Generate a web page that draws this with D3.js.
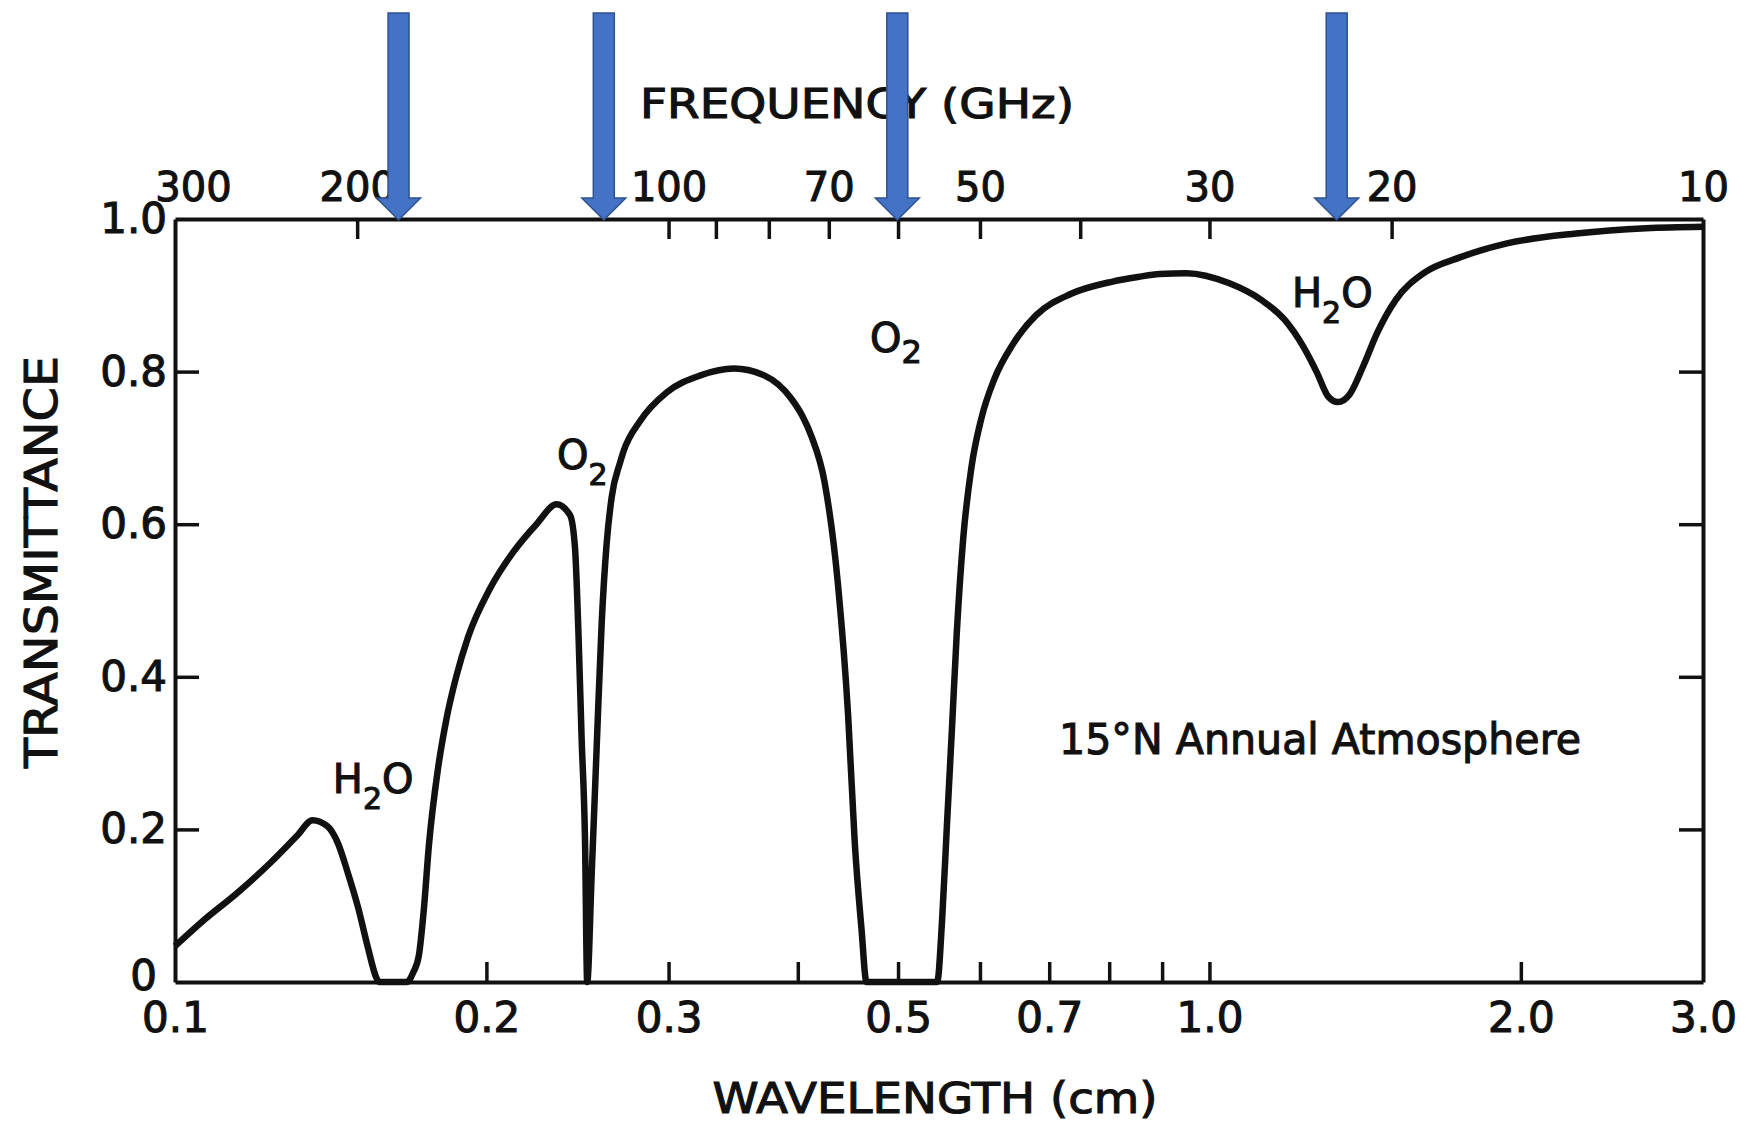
<!DOCTYPE html>
<html>
<head>
<meta charset="utf-8">
<script src="https://cdn.jsdelivr.net/npm/d3@7"></script>
<style>
  body { margin: 0; background: #fff; }
  svg { display: block; }
  text { font-family: "DejaVu Sans", sans-serif; fill: #111; stroke: #111; stroke-width: 1.1px; }
</style>
</head>
<body>
<svg id="chart" width="1745" height="1125"></svg>
<script>
// curve: wavelength (cm) -> transmittance
const wavelength = [0.100, 0.1064, 0.1147, 0.1236, 0.1313, 0.1358, 0.1404, 0.1437, 0.1470, 0.1503,
    0.1537, 0.1565, 0.1575, 0.1675, 0.1700, 0.1721, 0.1740, 0.1760, 0.1795, 0.1830,
    0.1870, 0.1920, 0.2015, 0.2122, 0.2236, 0.2338, 0.2409, 0.2436, 0.2455, 0.2472,
    0.2491, 0.2503, 0.2528, 0.2556, 0.2585, 0.2614, 0.2643, 0.2692, 0.2713, 0.2815,
    0.2989, 0.3221, 0.3470, 0.3712, 0.3940, 0.4040, 0.4121, 0.4246, 0.4375, 0.4474,
    0.4541, 0.4609, 0.4661, 0.5455, 0.5515, 0.5575, 0.5637, 0.5698, 0.5781, 0.5888,
    0.6017, 0.6194, 0.6450, 0.6800, 0.7350, 0.8060, 0.8528, 0.8950, 0.9500, 1.0440,
    1.1220, 1.1820, 1.2320, 1.2700, 1.3030, 1.3310, 1.3660, 1.4080, 1.4530, 1.5140,
    1.6110, 1.7490, 1.9390, 2.2630, 2.6420, 3.000];
const transmittance = [0.047, 0.080, 0.116, 0.156, 0.192, 0.212, 0.204, 0.182, 0.142, 0.098,
    0.044, 0.006, 0.0, 0.0, 0.013, 0.035, 0.095, 0.180, 0.278, 0.345,
    0.400, 0.452, 0.515, 0.563, 0.600, 0.626, 0.612, 0.569, 0.456, 0.321,
    0.185, 0.0, 0.140, 0.305, 0.470, 0.575, 0.635, 0.680, 0.695, 0.735,
    0.773, 0.795, 0.804, 0.795, 0.765, 0.742, 0.716, 0.655, 0.520, 0.350,
    0.182, 0.070, 0.0, 0.0, 0.081, 0.206, 0.331, 0.457, 0.582, 0.675,
    0.738, 0.790, 0.835, 0.874, 0.902, 0.918, 0.924, 0.928, 0.929, 0.916,
    0.894, 0.868, 0.833, 0.799, 0.767, 0.760, 0.770, 0.807, 0.851, 0.894,
    0.929, 0.950, 0.968, 0.981, 0.988, 0.990];

const wavelengthTicks = [0.2, 0.3, 0.4, 0.5, 0.6, 0.7, 0.8, 0.9, 1.0, 2.0];
const wavelengthLabels = [0.1, 0.2, 0.3, 0.5, 0.7, 1.0, 2.0, 3.0];
const frequencyTicks = [200, 100, 90, 80, 70, 60, 50, 40, 30, 20];
const frequencyLabels = [300, 200, 100, 70, 50, 30, 20, 10];
const transTicks = [0, 0.2, 0.4, 0.6, 0.8, 1.0];
// blue markers (GHz)
const arrowFreqs = [182.4, 115.5, 60.1, 22.6];

// labels inside the plot, anchored at (wavelength, transmittance)
const gasLabels = [
    { main: "H", sub: "2", tail: "O", lam: 0.1421, t: 0.248 },
    { main: "O", sub: "2", tail: "", lam: 0.234, t: 0.672 },
    { main: "O", sub: "2", tail: "", lam: 0.4697, t: 0.826, small: true },
    { main: "H", sub: "2", tail: "O", lam: 1.2017, t: 0.885 }
];

const svg = d3.select("#chart");
const L = 175, R = 1703, T = 219, B = 982;

const x = d3.scaleLog().domain([0.1, 3.0]).range([L, R]);
const xFreq = d3.scaleLog().domain([300, 10]).range([L, R]);
const y = d3.scaleLinear().domain([0, 1]).range([B, T]);

const fmtLam = d => wavelengthLabels.includes(d) ? d.toFixed(1) : "";
const fmtFreq = d => frequencyLabels.includes(d) ? String(d) : "";

const styleAxis = (g, size) => {
    g.select(".domain").attr("stroke", "#111").attr("stroke-width", 4);
    g.selectAll(".tick line").attr("stroke", "#111").attr("stroke-width", 3.5);
    g.selectAll(".tick text").style("font-size", size + "px").attr("fill", "#111");
    g.attr("font-family", null).attr("font-size", null);
};

// bottom axis
const gBottom = svg.append("g")
    .attr("transform", `translate(0,${B})`)
    .call(d3.axisBottom(x)
        .tickValues([...new Set([0.1, ...wavelengthTicks, 3.0])])
        .tickFormat(fmtLam)
        .tickSizeInner(-20).tickSizeOuter(0).tickPadding(20));
styleAxis(gBottom, 42);
gBottom.selectAll(".tick").filter(d => d === 0.1 || d === 3.0).select("line").remove();

// top axis (frequency)
const gTop = svg.append("g")
    .attr("transform", `translate(0,${T})`)
    .call(d3.axisTop(xFreq)
        .tickValues([300, ...frequencyTicks, 10])
        .tickFormat(fmtFreq)
        .tickSizeInner(-20).tickSizeOuter(0).tickPadding(18));
styleAxis(gTop, 40);
gTop.selectAll(".tick").filter(d => d === 300 || d === 10).select("line").remove();
gTop.selectAll(".tick text").filter(d => d === 300).attr("dx", 18);

// left axis
const gLeft = svg.append("g")
    .attr("transform", `translate(${L},0)`)
    .call(d3.axisLeft(y)
        .tickValues(transTicks)
        .tickFormat(d => d === 0 ? "0" : d.toFixed(1))
        .tickSizeInner(-24).tickSizeOuter(0).tickPadding(8));
styleAxis(gLeft, 42);
gLeft.selectAll(".tick").filter(d => d === 0 || d === 1).select("line").remove();
gLeft.selectAll(".tick text").filter(d => d === 0).attr("dx", -10).attr("y", -6);

// right axis, ticks only
const gRight = svg.append("g")
    .attr("transform", `translate(${R},0)`)
    .call(d3.axisRight(y)
        .tickValues(transTicks)
        .tickFormat("")
        .tickSizeInner(-24).tickSizeOuter(0));
styleAxis(gRight, 42);
gRight.selectAll(".tick").filter(d => d === 0 || d === 1).select("line").remove();

// transmittance curve
const points = wavelength.map((w, i) => [w, transmittance[i]]);
const line = d3.line()
    .x(d => x(d[0]))
    .y(d => y(d[1]))
    .curve(d3.curveMonotoneX);

svg.append("path")
    .datum(points)
    .attr("fill", "none")
    .attr("stroke", "#111")
    .attr("stroke-width", 6.5)
    .attr("stroke-linejoin", "round")
    .attr("d", line);

// axis titles
svg.append("text")
    .attr("x", 857).attr("y", 118)
    .attr("text-anchor", "middle")
    .attr("textLength", 434).attr("lengthAdjust", "spacingAndGlyphs")
    .style("font-size", "40px")
    .text("FREQUENCY (GHz)");

svg.append("text")
    .attr("x", 935).attr("y", 1113)
    .attr("text-anchor", "middle")
    .attr("textLength", 445).attr("lengthAdjust", "spacingAndGlyphs")
    .style("font-size", "42px")
    .text("WAVELENGTH (cm)");

svg.append("text")
    .attr("transform", "translate(57,562) rotate(-90)")
    .attr("text-anchor", "middle")
    .attr("textLength", 412).attr("lengthAdjust", "spacingAndGlyphs")
    .style("font-size", "44px")
    .text("TRANSMITTANCE");

// gas labels
gasLabels.forEach(g => {
    const t = svg.append("text")
        .attr("x", x(g.lam)).attr("y", y(g.t))
        .style("font-size", "40px");
    t.append("tspan").text(g.main);
    t.append("tspan")
        .attr("dy", g.small ? 11 : 16)
        .style("font-size", g.small ? "32px" : "30px")
        .text(g.sub);
    if (g.tail) {
        t.append("tspan").attr("dy", -16).text(g.tail);
    }
});

svg.append("text")
    .attr("x", x(0.7154)).attr("y", y(0.299))
    .attr("textLength", 522).attr("lengthAdjust", "spacingAndGlyphs")
    .style("font-size", "42px")
    .text("15°N Annual Atmosphere");

// blue arrows marking the channels
const shaftW = 10.5, headW = 22, headH = 22, topY = 13;
svg.selectAll(".arrow")
    .data(arrowFreqs)
    .enter()
    .append("path")
    .attr("class", "arrow")
    .attr("fill", "#4472C4")
    .attr("stroke", "#2F528F")
    .attr("stroke-width", 1.5)
    .attr("d", f => {
        const cx = xFreq(f);
        const hy = T + 1 - headH;
        return `M${cx - shaftW},${topY} L${cx + shaftW},${topY} L${cx + shaftW},${hy} L${cx + headW},${hy} ` +
            `L${cx},${T + 1} L${cx - headW},${hy} L${cx - shaftW},${hy} Z`;
    });
</script>
</body>
</html>
